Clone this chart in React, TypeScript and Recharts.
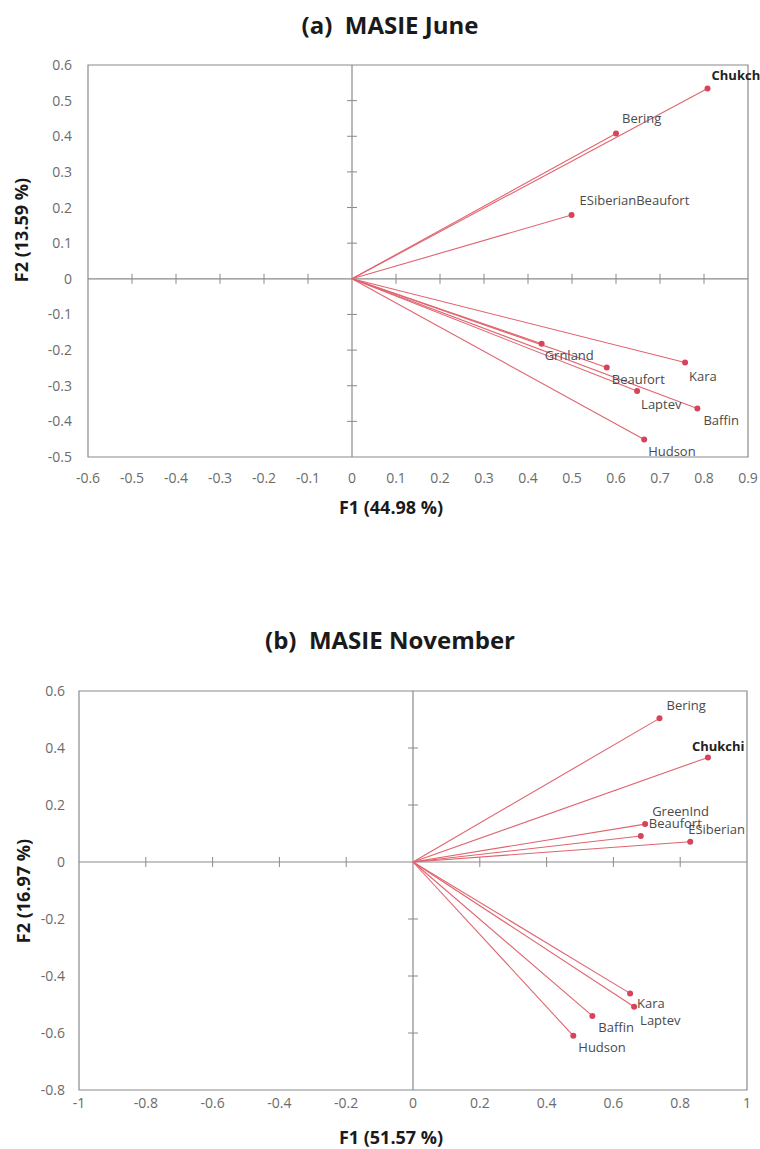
import React from 'react';
import {
  ReferenceArea,
  ReferenceDot,
  ReferenceLine,
  Scatter,
  ScatterChart,
  XAxis,
  YAxis,
} from 'recharts';

// (a) MASIE June – variable loadings on F1/F2
const juneNames = ['Chukchi', 'Bering', 'ESiberianBeaufort', 'Grnland', 'Beaufort', 'Laptev', 'Kara', 'Baffin', 'Hudson'];
const juneF1 = [0.808, 0.6, 0.499, 0.431, 0.579, 0.648, 0.757, 0.785, 0.664];
const juneF2 = [0.534, 0.408, 0.179, -0.182, -0.249, -0.315, -0.235, -0.364, -0.451];
const juneXTicks = [-0.6, -0.5, -0.4, -0.3, -0.2, -0.1, 0, 0.1, 0.2, 0.3, 0.4, 0.5, 0.6, 0.7, 0.8, 0.9];
const juneYTicks = [-0.5, -0.4, -0.3, -0.2, -0.1, 0, 0.1, 0.2, 0.3, 0.4, 0.5, 0.6];

// (b) MASIE November
const novNames = ['Bering', 'Chukchi', 'GreenInd', 'Beaufort', 'ESiberian', 'Kara', 'Laptev', 'Baffin', 'Hudson'];
const novF1 = [0.738, 0.883, 0.695, 0.682, 0.83, 0.65, 0.662, 0.537, 0.48];
const novF2 = [0.504, 0.367, 0.133, 0.091, 0.071, -0.461, -0.508, -0.54, -0.61];
const novXTicks = [-1, -0.8, -0.6, -0.4, -0.2, 0, 0.2, 0.4, 0.6, 0.8, 1];
const novYTicks = [-0.8, -0.6, -0.4, -0.2, 0, 0.2, 0.4, 0.6];

// label placement relative to the point (px): [dx, dy]
const juneLabelOffset: Record<string, [number, number]> = {
  Chukchi: [4, -14],
  Bering: [6, -15],
  ESiberianBeaufort: [8, -15],
  Grnland: [3, 11],
  Beaufort: [5, 11],
  Laptev: [4, 13],
  Kara: [4, 13],
  Baffin: [6, 11],
  Hudson: [4, 11],
};
const novLabelOffset: Record<string, [number, number]> = {
  Bering: [7, -13],
  Chukchi: [-16, -11],
  GreenInd: [7, -13],
  Beaufort: [8, -13],
  ESiberian: [-2, -13],
  Kara: [7, 10],
  Laptev: [6, 13],
  Baffin: [6, 11],
  Hudson: [5, 11],
};

const FONT = '"Open Sans", sans-serif';
const FRAME = '#8a8a8a';
const VECTOR = '#e0646f';
const DOT = '#d6435a';

interface BiplotProps {
  names: string[];
  f1: number[];
  f2: number[];
  xTicks: number[];
  yTicks: number[];
  offsets: Record<string, [number, number]>;
  height: number;
  margin: { top: number; right: number; bottom: number; left: number };
  yTickSize: number;
  xTickSize: number;
}

function Biplot({ names, f1, f2, xTicks, yTicks, offsets, height, margin, yTickSize, xTickSize }: BiplotProps) {
  const data = names.map((name, i) => ({ name, x: f1[i], y: f2[i] }));
  const xMin = xTicks[0];
  const xMax = xTicks[xTicks.length - 1];
  const yMin = yTicks[0];
  const yMax = yTicks[yTicks.length - 1];
  const tickStyle = { fill: '#6b6b6b', fontSize: 14, fontFamily: FONT };

  return (
    <ScatterChart width={760} height={height} margin={margin}>
      <XAxis
        type="number"
        dataKey="x"
        domain={[xMin, xMax]}
        ticks={xTicks}
        interval={0}
        axisLine={false}
        tickLine={false}
        tickSize={xTickSize}
        tickMargin={2}
        height={40}
        tick={tickStyle}
        tickFormatter={(v) => String(v)}
      />
      <YAxis
        type="number"
        dataKey="y"
        domain={[yMin, yMax]}
        ticks={yTicks}
        interval={0}
        axisLine={false}
        tickLine={false}
        tickSize={yTickSize}
        tickMargin={2}
        width={50}
        tick={tickStyle}
        tickFormatter={(v) => String(v)}
      />
      <ReferenceArea x1={xMin} x2={xMax} y1={yMin} y2={yMax} fill="none" stroke={FRAME} strokeWidth={1.2} />
      <ReferenceLine x={0} stroke={FRAME} strokeWidth={1.2} />
      <ReferenceLine y={0} stroke={FRAME} strokeWidth={1.2} />
      {xTicks
        .filter((t) => t !== 0 && t !== xMin && t !== xMax)
        .map((t) => (
          <ReferenceDot
            key={`xt${t}`}
            x={t}
            y={0}
            r={0}
            shape={(p: any) => (
              <line x1={p.cx} x2={p.cx} y1={p.cy - 5} y2={p.cy + 5} stroke={FRAME} strokeWidth={1} />
            )}
          />
        ))}
      {yTicks
        .filter((t) => t !== 0 && t !== yMin && t !== yMax)
        .map((t) => (
          <ReferenceDot
            key={`yt${t}`}
            x={0}
            y={t}
            r={0}
            shape={(p: any) => (
              <line x1={p.cx - 5} x2={p.cx + 5} y1={p.cy} y2={p.cy} stroke={FRAME} strokeWidth={1} />
            )}
          />
        ))}
      {data.map((d) => (
        <ReferenceLine
          key={`v${d.name}`}
          segment={[
            { x: 0, y: 0 },
            { x: d.x, y: d.y },
          ]}
          stroke={VECTOR}
          strokeWidth={1.1}
        />
      ))}
      <Scatter
        data={data}
        isAnimationActive={false}
        shape={(p: any) => {
          const name = p.payload.name as string;
          const [dx, dy] = offsets[name] ?? [4, 11];
          const bold = name === 'Chukchi';
          return (
            <g>
              <circle cx={p.cx} cy={p.cy} r={3} fill={DOT} />
              <text
                x={p.cx + dx}
                y={p.cy + dy}
                dominantBaseline="central"
                fontFamily={FONT}
                fontSize={13}
                fontWeight={bold ? 700 : 400}
                fill={bold ? '#222' : '#4a4a4a'}
              >
                {name}
              </text>
            </g>
          );
        }}
      />
    </ScatterChart>
  );
}

const textBase: React.CSSProperties = {
  position: 'absolute',
  fontFamily: FONT,
  fontWeight: 700,
  color: '#1a1a1a',
  whiteSpace: 'pre',
  transform: 'translate(-50%, -50%)',
  lineHeight: 1,
};

export default function App() {
  return (
    <div style={{ position: 'absolute', left: 0, top: 0, width: 760, height: 1149, background: '#fff' }}>
      <div style={{ ...textBase, left: 390, top: 25, fontSize: 24 }}>(a)  MASIE June</div>
      <div style={{ position: 'absolute', left: 0, top: 0 }}>
        <Biplot
          names={juneNames}
          f1={juneF1}
          f2={juneF2}
          xTicks={juneXTicks}
          yTicks={juneYTicks}
          offsets={juneLabelOffset}
          height={540}
          margin={{ top: 65, right: 12, bottom: 43, left: 38 }}
          yTickSize={14}
          xTickSize={14}
        />
      </div>
      <div style={{ ...textBase, left: 391, top: 507, fontSize: 18 }}>F1 (44.98 %)</div>
      <div style={{ ...textBase, left: 21, top: 230, fontSize: 18, transform: 'translate(-50%, -50%) rotate(-90deg)' }}>
        F2 (13.59 %)
      </div>

      <div style={{ ...textBase, left: 390, top: 640, fontSize: 24 }}>(b)  MASIE November</div>
      <div style={{ position: 'absolute', left: 0, top: 580 }}>
        <Biplot
          names={novNames}
          f1={novF1}
          f2={novF2}
          xTicks={novXTicks}
          yTicks={novYTicks}
          offsets={novLabelOffset}
          height={569}
          margin={{ top: 111, right: 13, bottom: 19, left: 29 }}
          yTickSize={12}
          xTickSize={6}
        />
      </div>
      <div style={{ ...textBase, left: 391, top: 1137, fontSize: 18 }}>F1 (51.57 %)</div>
      <div style={{ ...textBase, left: 23, top: 891, fontSize: 18, transform: 'translate(-50%, -50%) rotate(-90deg)' }}>
        F2 (16.97 %)
      </div>
    </div>
  );
}
